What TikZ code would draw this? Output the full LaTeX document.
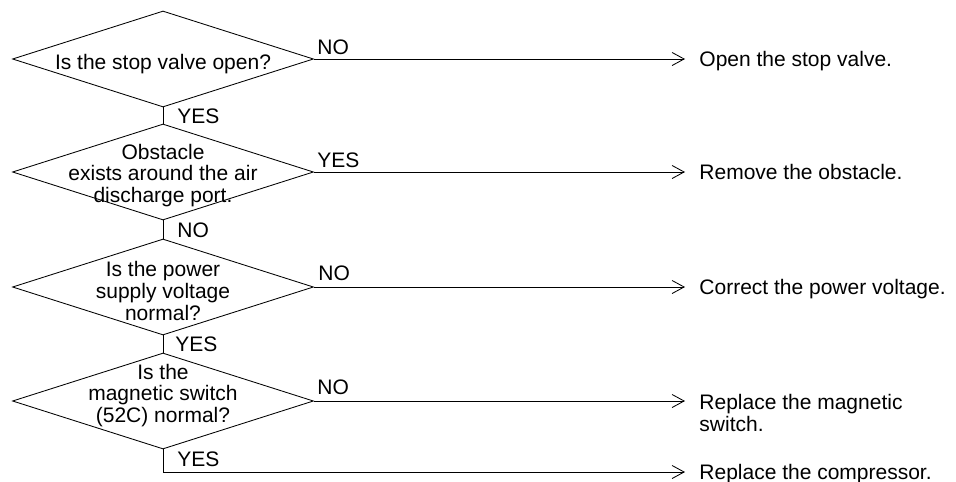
\documentclass[tikz,border=0pt]{standalone}
\usepackage{fontspec}
\setmainfont{Liberation Sans}
\usetikzlibrary{shapes.geometric,arrows.meta}
\begin{document}
\begin{tikzpicture}[x=1pt,y=-1pt,
  line width=0.85pt,
  font=\fontsize{21}{21.8}\selectfont,
  dec/.style={diamond,draw,minimum width=301pt,minimum height=96pt,inner sep=0pt},
  qtext/.style={align=center,inner sep=0pt},
  lbl/.style={inner sep=0pt,anchor=base west},
  act/.style={inner sep=0pt,anchor=base west,align=left},
  arr/.style={-{Straight Barb[length=12pt,width=13pt,line width=0.85pt]},shorten >=14pt}]
\useasboundingbox (0,0) rectangle (956,482);
% decisions
\node[dec] (d1) at (163,59) {};
\node[dec] (d2) at (163,172) {};
\node[dec] (d3) at (163,287) {};
\node[dec] (d4) at (163,401) {};
\node[qtext,anchor=base] (t1) at (163,69) {Is the stop valve open?};
\node[qtext] (t2) at (163,175.5) {Obstacle\\exists around the air\\discharge port.};
\node[qtext] (t3) at (163,291) {Is the power\\supply voltage\\normal?};
\node[qtext] (t4) at (163,395.5) {Is the\\magnetic switch\\(52C) normal?};
% actions
\node[act] (r1) at (699,66.5) {Open the stop valve.};
\node[act] (r2) at (699,179.5) {Remove the obstacle.};
\node[act] (r3) at (699,294) {Correct the power voltage.};
\node[act] (r4) at (699,431) {Replace the magnetic\\switch.};
\node[act] (r5) at (699,479) {Replace the compressor.};
\coordinate (c5) at (163,472);
% vertical connectors
\draw (d1.south) -- (d2.north);
\draw (d2.south) -- (d3.north);
\draw (d3.south) -- (d4.north);
% horizontal connectors
\draw[arr] (d1.east) -- (d1.east -| r1.west);
\draw[arr] (d2.east) -- (d2.east -| r2.west);
\draw[arr] (d3.east) -- (d3.east -| r3.west);
\draw[arr] (d4.east) -- (d4.east -| r4.west);
\draw[arr] (d4.south) -- (c5) -- (c5 -| r5.west);
% labels
\node[lbl] (l1) at (317,54) {NO};
\node[lbl] (l2) at (317,167) {YES};
\node[lbl] (l3) at (318,280) {NO};
\node[lbl] (l4) at (317,394) {NO};
\node[lbl] (y1) at (177,123.5) {YES};
\node[lbl] (y2) at (177,237) {NO};
\node[lbl] (y3) at (175,351.5) {YES};
\node[lbl] (y4) at (177,466.5) {YES};
\end{tikzpicture}
\end{document}
